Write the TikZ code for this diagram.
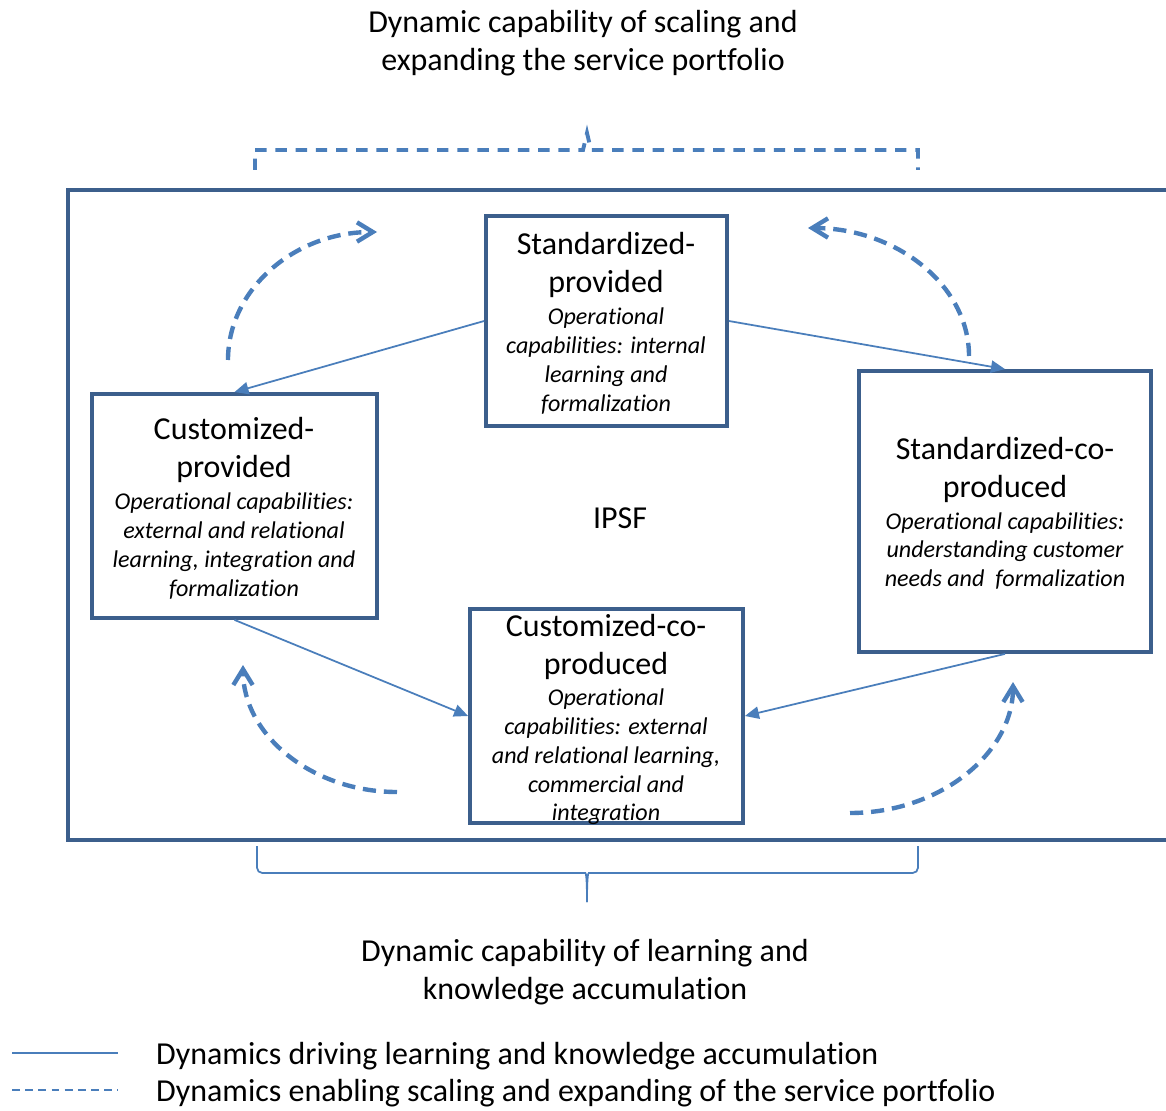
\documentclass[tikz,border=0pt]{standalone}
\usepackage{fontspec}
\setmainfont{Carlito}[Ligatures={NoCommon,NoRare},Contextuals=NoAlternate]
\usepackage{tikz}
\usetikzlibrary{arrows.meta}
\definecolor{boxblue}{RGB}{60,95,140}
\definecolor{lineblue}{RGB}{74,126,187}

\begin{document}
\begin{tikzpicture}[x=0.02cm,y=-0.02cm,
		box/.style={draw=boxblue,line width=2.2pt,inner sep=0pt},
		head/.style={font=\fontsize{18.2}{21.7}\selectfont,align=center},
		ital/.style={font=\fontsize{13.7}{16.4}\selectfont\itshape,align=center},
		flow/.style={draw=lineblue,line width=1pt,-{Triangle[length=8pt,width=7pt]}},
		cyc/.style={draw=lineblue,line width=2.5pt,dash pattern=on 7.5pt off 4.5pt,-{Straight Barb[length=9pt,width=11pt]}}]
			\useasboundingbox (0,0) rectangle (1166,1111);
			
			% outer frame (right side runs off the page)
			\draw[boxblue,line width=2.2pt] (1180,190)--(68,190)--(68,840)--(1180,840);
			
			\node[box,minimum width=4.82cm,minimum height=4.2cm] (SP) at (606.5,321) {};
			\node[box,minimum width=5.7cm,minimum height=4.48cm] (CP) at (234.5,506) {};
			\node[box,minimum width=5.84cm,minimum height=5.62cm] (SC) at (1005,511.5) {};
			\node[box,minimum width=5.46cm,minimum height=4.28cm] (CC) at (606.5,716) {};
			
			\node[head] (SPt) at (606,265) {Standardized-\\provided};
			\node[ital] (SPc) at (606,361) {Operational\\capabilities: internal\\learning and\\formalization};
			\node[head] (CPt) at (234,450) {Customized-\\provided};
			\node[ital] (CPc) at (234,546) {Operational capabilities:\\external and relational\\learning, integration and\\formalization};
			\node[head] (SCt) at (1005,470) {Standardized-co-\\produced};
			\node[ital] (SCc) at (1005,551) {Operational capabilities:\\understanding customer\\needs and\ \ formalization};
			\node[head] (CCt) at (606,647) {Customized-co-\\produced};
			\node[ital] (CCc) at (606,757) {Operational\\capabilities: external\\and relational learning,\\commercial and\\integration};
			\node[head] (ipsf) at (620,518) {IPSF};
			
			\draw[flow] (SP.west)--(CP.north);
			\draw[flow] (SP.east)--(SC.north);
			\draw[flow] (CP.south)--(CC.west);
			\draw[flow] (SC.south)--(CC.east);
			
			\draw[cyc] (228,360) .. controls (228,289) and (295,232) .. (377,232);
			\draw[cyc] (969,356) .. controls (969,285) and (896,228) .. (808,228);
			\draw[cyc] (397,792) .. controls (312,792) and (243,735) .. (243,665);
			\draw[cyc] (850,813) .. controls (940,813) and (1013,753) .. (1013,682);
			
			% braces
			\draw[lineblue,line width=2.2pt,dash pattern=on 6.5pt off 5pt] (255,170)--(255,150)--(583,150)--(587,133)--(591,150)--(918,150)--(918,170);
			\draw[lineblue,line width=1pt,rounded corners=3pt] (257,846)--(257,873)--(580,873) .. controls (586,873) and (587,878) .. (587,902);
			\draw[lineblue,line width=1pt,rounded corners=3pt] (918,846)--(918,873)--(594,873) .. controls (588,873) and (587,878) .. (587,902);
			
			\node[head] (top) at (583,43) {Dynamic capability of scaling and\\expanding the service portfolio};
			\node[head] (bottom) at (585,972) {Dynamic capability of learning and\\knowledge accumulation};
			
			% legend
			\coordinate (L1a) at (12,1053);
			\coordinate (L1b) at (118,1053);
			\coordinate (L2a) at (12,1090);
			\coordinate (L2b) at (118,1090);
			\draw[lineblue,line width=1pt] (L1a)--(L1b);
			\draw[lineblue,line width=1pt,dash pattern=on 4.5pt off 3pt] (L2a)--(L2b);
			\node[head,anchor=west] (leg1) at (150,1056) {Dynamics driving learning and knowledge accumulation};
			\node[head,anchor=west] (leg2) at (150,1093) {Dynamics enabling scaling and expanding of the service portfolio};
		\end{tikzpicture}
\end{document}
